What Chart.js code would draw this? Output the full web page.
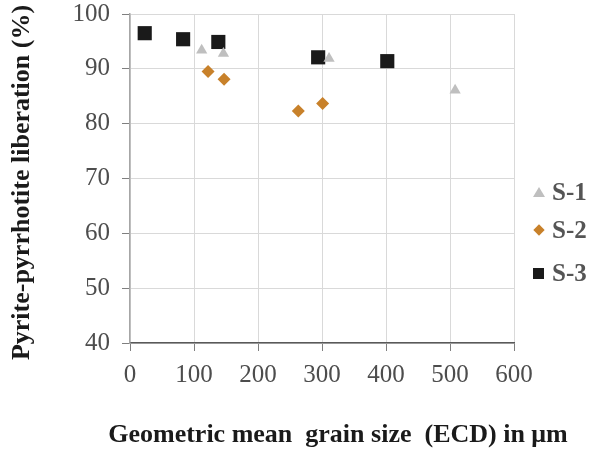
<!DOCTYPE html>
<html>
<head>
<meta charset="utf-8">
<script src="https://cdn.jsdelivr.net/npm/chart.js@4"></script>
<style>
    html, body { margin: 0; padding: 0; background: #fff; }
    #wrap { position: relative; width: 592px; height: 452px; }
    #wrap canvas { display: block; }
    .legend { position: absolute; left: 533px; top: 0; font-family: "Liberation Serif", serif; font-size: 25px; font-weight: bold; color: #555; }
    .legend div { position: absolute; left: 0; height: 30px; line-height: 30px; white-space: nowrap; }
    .mk { display: inline-block; vertical-align: middle; margin-right: 7px; position: relative; top: -2px; }
    .tri { width: 0; height: 0; border-left: 6px solid transparent; border-right: 6px solid transparent; border-bottom: 10px solid #bfbfbf; }
    .dia { width: 8px; height: 8px; background: #c8812a; transform: rotate(45deg); margin-left: 2px; margin-right: 9px; }
    .sq { width: 11px; height: 11px; background: #1a1a1a; margin-right: 8px; }
</style>
</head>
<body>
<div id="wrap">
    <canvas id="chart" width="592" height="452"></canvas>
    <div class="legend">
        <div style="top:177px"><span class="mk tri"></span>S-1</div>
        <div style="top:215px"><span class="mk dia"></span>S-2</div>
        <div style="top:258px"><span class="mk sq"></span>S-3</div>
    </div>
</div>
<script>
// Liberation vs grain size, three samples
const seriesNames = ['S-1', 'S-2', 'S-3'];
const s1Size = [112, 146, 311, 508];
const s1Lib  = [93.4, 92.8, 91.9, 86.1];
const s2Size = [122, 147, 263, 301];
const s2Lib  = [89.5, 88.1, 82.3, 83.7];
const s3Size = [23, 83, 138, 294, 402];
const s3Lib  = [96.5, 95.4, 94.9, 92.1, 91.4];
const xTicks = [0, 100, 200, 300, 400, 500, 600];
const yTicks = [40, 50, 60, 70, 80, 90, 100];
const xTitle = 'Geometric mean  grain size  (ECD) in μm';
const yTitle = 'Pyrite-pyrrhotite liberation (%)';

const toPoints = (xs, ys) => xs.map((x, i) => ({ x: x, y: ys[i] }));

const serif = "'Liberation Serif', 'Times New Roman', serif";

// axis titles drawn by hand: the built-in ones get squeezed to the chart width
const axisTitles = {
    id: 'axisTitles',
    afterDraw(chart) {
        const ctx = chart.ctx;
        const area = chart.chartArea;
        ctx.save();
        ctx.fillStyle = '#1a1a1a';
        ctx.font = 'bold 26px ' + serif;
        ctx.textAlign = 'center';
        ctx.textBaseline = 'middle';
        ctx.fillText(xTitle, area.left + (area.right - area.left) / 2 + 16, 435);
        ctx.translate(22, area.top + (area.bottom - area.top) / 2 + 4);
        ctx.rotate(-Math.PI / 2);
        ctx.fillText(yTitle, 0, 0);
        ctx.restore();
    }
};

new Chart(document.getElementById('chart'), {
    type: 'scatter',
    data: {
        datasets: [{
            label: seriesNames[0],
            data: toPoints(s1Size, s1Lib),
            pointStyle: 'triangle',
            pointRadius: 6.5,
            backgroundColor: '#bfbfbf',
            borderWidth: 0
        }, {
            label: seriesNames[1],
            data: toPoints(s2Size, s2Lib),
            pointStyle: 'rectRot',
            pointRadius: 6.5,
            backgroundColor: '#c8812a',
            borderWidth: 0
        }, {
            label: seriesNames[2],
            data: toPoints(s3Size, s3Lib),
            pointStyle: 'rect',
            pointRadius: 10,
            backgroundColor: '#1a1a1a',
            borderWidth: 0
        }]
    },
    plugins: [axisTitles],
    options: {
        responsive: false,
        animation: false,
        layout: { padding: { top: 14, right: 78, left: 0, bottom: 0 } },
        plugins: {
            legend: { display: false },
            tooltip: { enabled: false }
        },
        scales: {
            x: {
                type: 'linear',
                min: xTicks[0],
                max: xTicks[xTicks.length - 1],
                afterBuildTicks: s => { s.ticks = xTicks.map(v => ({ value: v })); },
                afterFit: s => { s.height = 109; s.paddingLeft = 0; s.paddingRight = 0; },
                grid: { color: '#d9d9d9', tickLength: 8, tickColor: '#7f7f7f' },
                border: { color: '#595959', width: 1.5 },
                ticks: { color: '#4d4d4d', padding: 9, font: { family: serif, size: 25 } }
            },
            y: {
                min: yTicks[0],
                max: yTicks[yTicks.length - 1],
                afterBuildTicks: s => { s.ticks = yTicks.map(v => ({ value: v })); },
                afterFit: s => { s.width = 130; s.paddingTop = 0; s.paddingBottom = 0; },
                grid: { color: '#d9d9d9', tickLength: 8, tickColor: '#7f7f7f' },
                border: { color: '#a6a6a6', width: 1.5 },
                ticks: { color: '#4d4d4d', padding: 12, font: { family: serif, size: 25 } }
            }
        }
    }
});
</script>
</body>
</html>
